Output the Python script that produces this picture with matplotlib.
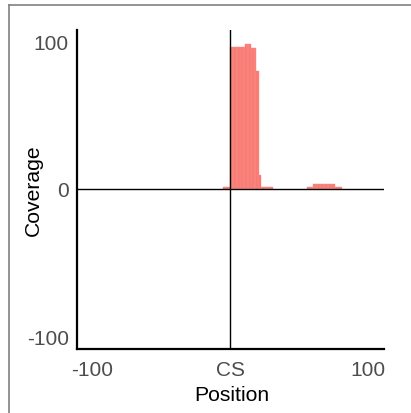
import matplotlib
matplotlib.use("Agg")
import matplotlib.pyplot as plt
from matplotlib.lines import Line2D

# Coverage per position (relative to CS)
positions = [-5, -4, -3, -2, -1,
             0, 1, 2, 3, 4, 5, 6, 7, 8, 9, 10,
             11, 12, 13, 14,
             15, 16, 17, 18,
             19, 20, 21,
             22, 23, 24, 25, 26, 27, 28, 29, 30,
             56, 57, 58, 59,
             60, 61, 62, 63, 64, 65, 66, 67, 68, 69, 70, 71, 72, 73, 74, 75,
             76, 77, 78, 79, 80]
coverage = [1.5, 1.5, 1.5, 1.5, 1.5,
            96, 96, 96, 96, 96, 96, 96, 96, 96, 96, 96,
            98, 98, 98, 98,
            95, 95, 95, 95,
            80, 80, 9,
            1.5, 1.5, 1.5, 1.5, 1.5, 1.5, 1.5, 1.5, 1.5,
            1.5, 1.5, 1.5, 1.5,
            3.5, 3.5, 3.5, 3.5, 3.5, 3.5, 3.5, 3.5, 3.5, 3.5, 3.5, 3.5, 3.5, 3.5, 3.5, 3.5,
            1.5, 1.5, 1.5, 1.5, 1.5]

xticks = [-100, 0, 100]
xtick_labels = ["-100", "CS", "100"]
yticks = [-100, 0, 100]
ytick_labels = ["-100", "0", "100"]

plt.rcParams['font.family'] = ['Liberation Sans', 'DejaVu Sans']

fig = plt.figure(figsize=(4.11, 4.14), dpi=100)
ax = fig.add_axes([77/411, 1 - 350/414, 307/411, 319/414])

ax.bar(positions, coverage, width=1.0, align='edge', color='#F8766D',
       edgecolor='#F9908A', linewidth=0.3)

ax.axhline(0, color='black', lw=1.0)
ax.axvline(0, color='black', lw=1.0)

ax.set_xlim(-111, 111.5)
ax.set_ylim(-108.5, 107.5)
ax.set_xticks(xticks)
ax.set_xticklabels(xtick_labels)
ax.set_yticks(yticks)
ax.set_yticklabels(ytick_labels)
ax.tick_params(length=0, labelsize=15, labelcolor='#4D4D4D')
ax.tick_params(axis='x', pad=8)
ax.tick_params(axis='y', pad=6)

for s in ['top', 'right']:
    ax.spines[s].set_visible(False)
for s in ['left', 'bottom']:
    ax.spines[s].set_linewidth(1.6)
    ax.spines[s].set_color('black')

ax.set_xlabel("Position", fontsize=15.2)
ax.set_ylabel("Coverage", fontsize=15.2)
ax.xaxis.set_label_coords(0.505, -0.113)
ax.yaxis.set_label_coords(-0.111, 0.5)

# outer gray frame (left and top edges only visible)
fig.add_artist(Line2D([8.5/411, 8.5/411], [0, 1 - 6/414], transform=fig.transFigure,
                      color='#808080', lw=1.2))
fig.add_artist(Line2D([8.5/411, 1], [1 - 6/414, 1 - 6/414], transform=fig.transFigure,
                      color='#808080', lw=1.2))

fig.savefig("out.png", dpi=100)
